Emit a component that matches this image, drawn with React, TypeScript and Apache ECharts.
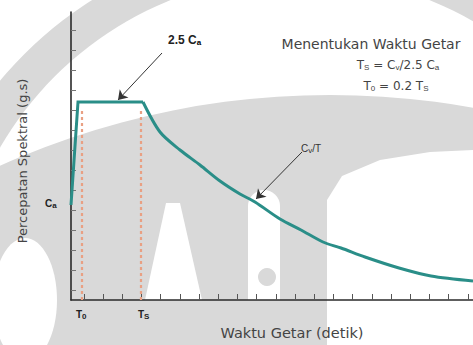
import React, { useEffect, useRef } from "react";
import * as echarts from "echarts";

// Period T (x, in plot units) and spectral acceleration (y, in plot units)
const periodT = [0, 0.35, 3.6, 4.45, 5.45, 6.45, 7.45, 8.45, 9.2, 10.45, 11.5, 12.6, 13.5, 14.7, 16.4, 18.0, 20.1];
const spectralSa = [4.75, 9.9, 9.9, 8.4, 7.5, 6.75, 5.95, 5.3, 4.9, 4.05, 3.5, 2.9, 2.6, 2.15, 1.6, 1.2, 0.95];
const plateauEnd = 2; // index where the Cv/T branch begins

const T0 = 0.55;
const TS = 3.5;
const dottedTop = 9.6;

const xTicks = [0.64, 1.6, 2.56, 3.52, 4.48, 5.44, 6.4, 7.36, 8.32, 9.28, 10.24, 11.2, 12.16, 13.12, 14.08, 15.04, 16, 16.96, 17.92, 18.88, 19.84];
const yTicks = [0.5, 1.5, 2.5, 3.5, 4.5, 5.5, 6.5, 7.5, 8.5, 9.5, 10.5, 11.5, 12.5, 13.5];

// annotation arrows: [from, to] in data units
const arrow25Ca = [[4.55, 12.35], [2.35, 10.0]];
const arrowCvT = [[11.55, 7.4], [9.25, 5.05]];

const GREY = "#d9d9d9";
const TEAL = "#2a8e88";
const FONT = "Liberation Sans, Arial, sans-serif";
const WIDE = "DejaVu Sans, Verdana, sans-serif";
const sub = { fontSize: 8, verticalAlign: "bottom", padding: [5, 0, 0, 0], fontFamily: FONT };

export default function App() {
  const ref = useRef<HTMLDivElement>(null);
  useEffect(() => {
    const chart = echarts.init(ref.current!, null, { renderer: "svg" });
    const bg = (el: any) => ({ ...el, silent: true, z: -100 });
    const pts = periodT.map((t, i) => [t, spectralSa[i]]);
    chart.setOption({
      animation: false,
      backgroundColor: "#ffffff",
      grid: { left: 71, right: 0, top: 12, bottom: 45 },
      xAxis: {
        type: "value",
        min: 0,
        max: 20.1,
        axisLine: { lineStyle: { color: "#2a2a2a", width: 1.6 } },
        axisTick: { show: true, inside: true, length: 6, customValues: xTicks, lineStyle: { color: "#555", width: 1 } },
        axisLabel: { show: false },
        splitLine: { show: false },
      },
      yAxis: {
        type: "value",
        min: 0,
        max: 14.4,
        axisLine: { show: true, lineStyle: { color: "#2a2a2a", width: 1.6 } },
        axisTick: { show: true, inside: true, length: 5, customValues: yTicks, lineStyle: { color: "#777", width: 1 } },
        axisLabel: { show: false },
        splitLine: { show: false },
      },
      series: [
        {
          type: "line",
          data: [[T0, 0], [T0, dottedTop]],
          symbol: "none",
          lineStyle: { color: "#e9a083", width: 2.2, type: [3, 3] },
          z: 2,
        },
        {
          type: "line",
          data: [[TS, 0], [TS, dottedTop]],
          symbol: "none",
          lineStyle: { color: "#e9a083", width: 2.2, type: [3, 3] },
          z: 2,
        },
        {
          type: "line",
          data: pts.slice(0, plateauEnd + 1),
          symbol: "none",
          lineStyle: { color: TEAL, width: 3, join: "miter" },
          z: 3,
        },
        {
          type: "line",
          data: pts.slice(plateauEnd),
          symbol: "none",
          smooth: 0.3,
          lineStyle: { color: TEAL, width: 3 },
          z: 3,
          markLine: {
            silent: true,
            symbol: ["none", "arrow"],
            symbolSize: 9,
            label: { show: false },
            lineStyle: { color: "#333", width: 1, type: "solid" },
            data: [
              [{ coord: arrow25Ca[0] }, { coord: arrow25Ca[1] }],
              [{ coord: arrowCvT[0] }, { coord: arrowCvT[1] }],
            ],
          },
        },
      ],
      graphic: [
        bg({ type: "circle", shape: { cx: 300, cy: 330, r: 390 }, style: { fill: GREY } }),
        bg({ type: "circle", shape: { cx: 300, cy: 322, r: 347 }, style: { fill: "#fff" } }),
        bg({ type: "circle", shape: { cx: 330, cy: 900, r: 805 }, style: { fill: GREY } }),
        bg({ type: "polygon", shape: { points: [[327, 345], [327, 200], [342, 176], [380, 160], [430, 152], [473, 150], [473, 345]] }, style: { fill: "#fff" } }),
        bg({ type: "rect", shape: { x: 248, y: 190, width: 32, height: 110, r: [16, 16, 0, 0] }, style: { fill: "#fff" } }),
        bg({ type: "polygon", shape: { points: [[145, 300], [166, 203], [180, 203], [202, 300]] }, style: { fill: "#fff" } }),
        bg({ type: "circle", shape: { cx: 267, cy: 277, r: 9 }, style: { fill: GREY } }),
        bg({ type: "ellipse", shape: { cx: 25, cy: 300, rx: 32, ry: 62 }, style: { fill: "#fff" } }),
        {
          type: "text", x: 168, y: 40, z: 100,
          style: { text: "{b|2.5 C}{s|a}", verticalAlign: "middle", rich: { b: { fontSize: 12, fontWeight: "bold", fill: "#222", fontFamily: FONT }, s: { ...sub, fontWeight: "bold" } } },
        },
        {
          type: "text", x: 371, y: 44, z: 100,
          style: { text: "Menentukan Waktu Getar", align: "center", verticalAlign: "middle", fontSize: 14, fontFamily: WIDE, fill: "#444" },
        },
        {
          type: "text", x: 398, y: 65, z: 100,
          style: { text: "{n|T}{s|S}{n| = C}{s|v}{n|/2.5 C}{s|a}", align: "center", verticalAlign: "middle", rich: { n: { fontSize: 12, fill: "#444", fontFamily: WIDE }, s: { ...sub, fill: "#444" } } },
        },
        {
          type: "text", x: 396, y: 86, z: 100,
          style: { text: "{n|T}{s|0}{n| = 0.2 T}{s|S}", align: "center", verticalAlign: "middle", rich: { n: { fontSize: 12, fill: "#444", fontFamily: WIDE }, s: { ...sub, fill: "#444" } } },
        },
        {
          type: "text", x: 301, y: 148, z: 100,
          style: { text: "{n|C}{s|v}{n|/T}", verticalAlign: "middle", rich: { n: { fontSize: 10, fill: "#333", fontFamily: FONT }, s: { ...sub, fill: "#333" } } },
        },
        {
          type: "text", x: 45, y: 203, z: 100,
          style: { text: "{n|C}{s|a}", verticalAlign: "middle", rich: { n: { fontSize: 10, fontWeight: "bold", fill: "#222", fontFamily: FONT }, s: { ...sub, fontWeight: "bold", fill: "#222" } } },
        },
        {
          type: "text", x: 76, y: 314, z: 100,
          style: { text: "{n|T}{s|0}", verticalAlign: "middle", rich: { n: { fontSize: 10, fontWeight: "bold", fill: "#222", fontFamily: FONT }, s: { ...sub, fontWeight: "bold", fill: "#222" } } },
        },
        {
          type: "text", x: 138, y: 314, z: 100,
          style: { text: "{n|T}{s|S}", verticalAlign: "middle", rich: { n: { fontSize: 10, fontWeight: "bold", fill: "#222", fontFamily: FONT }, s: { ...sub, fontWeight: "bold", fill: "#222" } } },
        },
        {
          type: "text", x: 292, y: 333, z: 100,
          style: { text: "Waktu Getar (detik)", align: "center", verticalAlign: "middle", fontSize: 14.5, fontFamily: WIDE, fill: "#444" },
        },
        {
          type: "text", x: 22, y: 161, z: 100, rotation: Math.PI / 2,
          style: { text: "Percepatan Spektral (g.s)", align: "center", verticalAlign: "middle", fontSize: 13, fontFamily: WIDE, fill: "#444" },
        },
      ],
    });
    return () => chart.dispose();
  }, []);
  return <div ref={ref} style={{ position: "fixed", left: 0, top: 0, width: 473, height: 345 }} />;
}
